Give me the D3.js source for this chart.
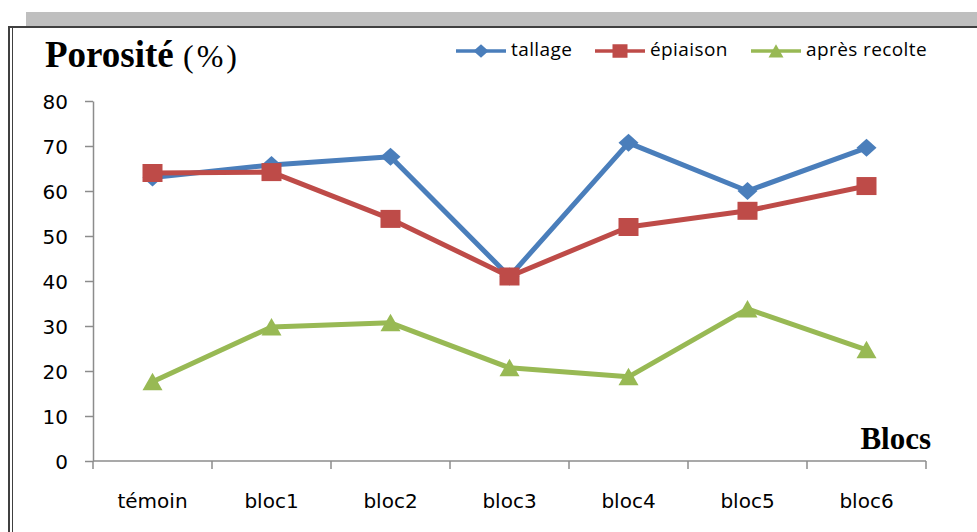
<!DOCTYPE html>
<html><head><meta charset="utf-8">
<script src="https://cdn.jsdelivr.net/npm/d3@7/dist/d3.min.js"></script>
<style>body{margin:0;background:#fff}svg{display:block}</style>
</head><body>
<svg id="c" width="977" height="532"></svg>
<script>
const categories = ["témoin","bloc1","bloc2","bloc3","bloc4","bloc5","bloc6"];
const tallage = [63, 65.8, 67.6, 41, 70.7, 60, 69.6];
const epiaison = [64, 64.2, 53.8, 41, 52, 55.6, 61.1];
const apresRecolte = [17.6, 29.8, 30.7, 20.7, 18.7, 33.8, 24.7];
const yTicks = [0,10,20,30,40,50,60,70,80];
const seriesNames = ["tallage","épiaison","après recolte"];

const svg = d3.select("#c");
// frame
svg.append("rect").attr("x",26).attr("y",12).attr("width",951).attr("height",14).attr("fill","#bfbfbf");
svg.append("line").attr("x1",8).attr("x2",977).attr("y1",27).attr("y2",27).attr("stroke","#404040").attr("stroke-width",2);
svg.append("line").attr("x1",9).attr("x2",9).attr("y1",27).attr("y2",532).attr("stroke","#404040").attr("stroke-width",2);
svg.append("line").attr("x1",12.5).attr("x2",12.5).attr("y1",28).attr("y2",532).attr("stroke","#404040").attr("stroke-width",1);

const x = d3.scaleBand().domain(categories).range([93,926]);
const y = d3.scaleLinear().domain([0,80]).range([461,101]);
const axisColor = "#8c8c8c";

const yAxis = svg.append("g").attr("transform","translate(93,0)")
  .call(d3.axisLeft(y).tickValues(yTicks).tickSize(8).tickSizeOuter(0).tickPadding(17));
const xAxis = svg.append("g").attr("transform","translate(0,461)")
  .call(d3.axisBottom(x).tickSize(0).tickPadding(30));
[yAxis,xAxis].forEach(g=>{
  g.selectAll("path,line").attr("stroke",axisColor).attr("stroke-width",1.5);
  g.selectAll("text").attr("font-family","DejaVu Sans").attr("font-size",20).attr("fill","#000");
});
yAxis.selectAll("text").attr("dy","0.36em");
xAxis.selectAll("text").attr("dy","0").attr("y",47);
xAxis.select(".domain").attr("d","M93,0H926");
// x ticks at band boundaries
const bounds = categories.map(c=>x(c)).concat([x.range()[1]]);
svg.append("g").selectAll("line").data(bounds).join("line")
  .attr("x1",d=>d).attr("x2",d=>d).attr("y1",461).attr("y2",469)
  .attr("stroke",axisColor).attr("stroke-width",1.5);

const colors = ["#4a7ebb","#be4b48","#98b954"];
const data = [tallage, epiaison, apresRecolte];
const cx = c => x(c) + x.bandwidth()/2;
const line = d3.line().x((d,i)=>cx(categories[i])).y(d=>y(d));

function marker(g, type, color, px, py){
  if(type===0){
    g.append("path").attr("d",`M${px},${py-9}L${px+10},${py}L${px},${py+9}L${px-10},${py}Z`).attr("fill",color);
  } else if(type===1){
    g.append("rect").attr("x",px-10).attr("y",py-9).attr("width",20).attr("height",18).attr("fill",color);
  } else {
    g.append("path").attr("d",`M${px},${py-9}L${px+10},${py+8.5}L${px-10},${py+8.5}Z`).attr("fill",color);
  }
}

data.forEach((vals,k)=>{
  const g = svg.append("g");
  g.append("path").datum(vals).attr("d",line).attr("fill","none").attr("stroke",colors[k]).attr("stroke-width",5).attr("stroke-linejoin","round");
  vals.forEach((v,i)=>marker(g,k,colors[k],cx(categories[i]),y(v)));
});

// legend
const legX = [456, 595, 751];
seriesNames.forEach((n,k)=>{
  const g = svg.append("g");
  g.append("line").attr("x1",legX[k]).attr("x2",legX[k]+50).attr("y1",51).attr("y2",51).attr("stroke",colors[k]).attr("stroke-width",3.5);
  const s = 0.75;
  const m = g.append("g").attr("transform",`translate(${legX[k]+25},51) scale(${s}) translate(${-(legX[k]+25)},-51)`);
  marker(m,k,colors[k],legX[k]+25,51);
  g.append("text").attr("x",legX[k]+55).attr("y",56).text(n)
    .attr("font-family","Open Sans").attr("font-size",19).attr("letter-spacing",0.4).attr("fill","#000");
});

// titles
const t = svg.append("text").attr("x",45).attr("y",67).attr("font-family","Liberation Serif").attr("fill","#000");
t.append("tspan").attr("font-weight","bold").attr("font-size",37).text("Porosité ");
t.append("tspan").attr("font-size",32).attr("letter-spacing",3).text("(%)");
svg.append("text").attr("x",931).attr("y",449).attr("text-anchor","end").attr("font-family","Liberation Serif")
  .attr("font-weight","bold").attr("font-size",31).attr("fill","#000").text("Blocs");
</script>
</body></html>
